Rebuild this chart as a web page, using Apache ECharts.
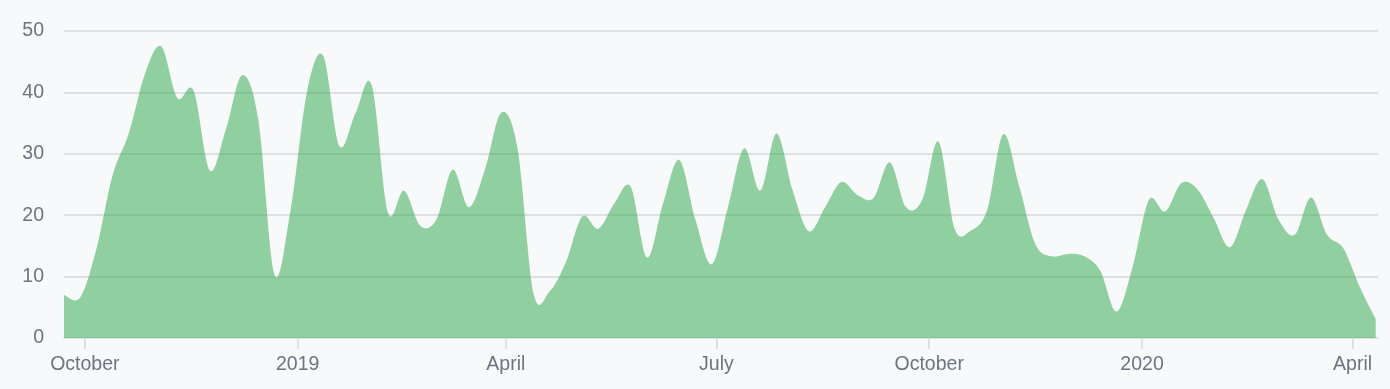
<!DOCTYPE html>
<html>
<head>
<meta charset="utf-8">
<script src="https://cdn.jsdelivr.net/npm/echarts@6/dist/echarts.min.js"></script>
<style>
html,body{margin:0;padding:0;background:#f8f9fa;}
#chart{width:1390px;height:389px;}
</style>
</head>
<body>
<div id="chart"></div>
<script>
var weeks = [
"2018-09-22","2018-09-29","2018-10-06","2018-10-13","2018-10-20","2018-10-27","2018-11-03","2018-11-10","2018-11-17","2018-11-24",
"2018-12-01","2018-12-08","2018-12-15","2018-12-22","2018-12-29","2019-01-05","2019-01-12","2019-01-19","2019-01-26","2019-02-02",
"2019-02-09","2019-02-16","2019-02-23","2019-03-02","2019-03-09","2019-03-16","2019-03-23","2019-03-30","2019-04-06","2019-04-13",
"2019-04-20","2019-04-27","2019-05-04","2019-05-11","2019-05-18","2019-05-25","2019-06-01","2019-06-08","2019-06-15","2019-06-22",
"2019-06-29","2019-07-06","2019-07-13","2019-07-20","2019-07-27","2019-08-03","2019-08-10","2019-08-17","2019-08-24","2019-08-31",
"2019-09-07","2019-09-14","2019-09-21","2019-09-28","2019-10-05","2019-10-12","2019-10-19","2019-10-26","2019-11-02","2019-11-09",
"2019-11-16","2019-11-23","2019-11-30","2019-12-07","2019-12-14","2019-12-21","2019-12-28","2020-01-04","2020-01-11","2020-01-18",
"2020-01-25","2020-02-01","2020-02-08","2020-02-15","2020-02-22","2020-02-29","2020-03-07","2020-03-14","2020-03-21","2020-03-28",
"2020-04-04","2020-04-11"
];
var counts = [
7.0, 6.6, 14.5, 26.5, 33.3, 43.0, 47.5, 39.1, 40.3, 27.3,
34.0, 42.8, 35.5, 10.3, 21.0, 40.0, 46.0, 31.3, 36.6, 41.2,
20.5, 24.0, 18.3, 19.3, 27.4, 21.3, 27.5, 36.7, 31.0, 7.2,
7.6, 12.4, 19.8, 17.8, 22.0, 24.6, 13.1, 22.0, 29.0, 19.2,
12.0, 21.3, 30.9, 24.0, 33.3, 24.0, 17.4, 21.3, 25.4, 23.3,
22.8, 28.6, 21.3, 22.5, 32.0, 17.8, 17.5, 20.8, 33.2, 24.6,
15.2, 13.3, 13.7, 13.3, 10.9, 4.3, 11.7, 22.5, 20.6, 25.2,
24.2, 19.5, 14.8, 20.9, 25.9, 19.3, 16.8, 22.9, 16.8, 14.6,
8.4, 3.1
];
var monthNames = ["January","February","March","April","May","June","July","August","September","October","November","December"];
var axisEnd = "2020-04-12";
var yTicks = [0, 10, 20, 30, 40, 50];

var seriesData = weeks.map(function (d, i) { return [d, counts[i]]; });

// uniform Catmull-Rom spline through the projected points
function renderArea(params, api) {
  if (params.dataIndex !== 0) return null;
  var n = counts.length;
  var pts = [];
  for (var i = 0; i < n; i++) {
    pts.push(api.coord([api.value(0, i), api.value(1, i)]));
  }
  var cs = params.coordSys;
  var top = cs.y, bottom = cs.y + cs.height;
  var base = api.coord([api.value(0, 0), yTicks[0]])[1];
  function clampY(v) { return Math.max(top, Math.min(bottom, v)); }
  var d = 'M' + pts[0][0] + ' ' + pts[0][1];
  for (var k = 0; k < n - 1; k++) {
    var p0 = pts[Math.max(k - 1, 0)], p1 = pts[k], p2 = pts[k + 1], p3 = pts[Math.min(k + 2, n - 1)];
    var c1x = p1[0] + (p2[0] - p0[0]) / 6, c1y = clampY(p1[1] + (p2[1] - p0[1]) / 6);
    var c2x = p2[0] - (p3[0] - p1[0]) / 6, c2y = clampY(p2[1] - (p3[1] - p1[1]) / 6);
    d += ' C' + c1x + ' ' + c1y + ' ' + c2x + ' ' + c2y + ' ' + p2[0] + ' ' + p2[1];
  }
  d += ' L' + pts[n - 1][0] + ' ' + base + ' L' + pts[0][0] + ' ' + base + ' Z';
  return {
    type: 'path',
    shape: {pathData: d},
    style: {fill: 'rgba(40,167,69,0.5)', stroke: null}
  };
}

var chart = echarts.init(document.getElementById('chart'), null, {renderer: 'canvas'});
chart.setOption({
  backgroundColor: '#f8f9fa',
  animation: false,
  grid: {left: 64, right: 12, top: 31, bottom: 51, containLabel: false},
  xAxis: {
    type: 'time',
    min: 'dataMin',
    max: axisEnd,
    splitNumber: 5,
    axisLine: {show: true, lineStyle: {color: '#dfe0e2', width: 2}},
    axisTick: {show: true, length: 11, lineStyle: {color: '#dfe0e2', width: 2}},
    splitLine: {show: false},
    axisLabel: {
      color: '#6c757d',
      fontSize: 19.5,
      fontFamily: '"Liberation Sans", Arial, sans-serif',
      margin: 17,
      hideOverlap: true,
      formatter: function (value) {
        var dt = new Date(value);
        return dt.getMonth() === 0 ? String(dt.getFullYear()) : monthNames[dt.getMonth()];
      }
    }
  },
  yAxis: {
    type: 'value',
    min: yTicks[0],
    max: yTicks[yTicks.length - 1],
    interval: 10,
    axisLine: {show: false},
    axisTick: {show: false},
    splitLine: {show: true, lineStyle: {color: '#dfe0e2', width: 2}},
    axisLabel: {
      color: '#6c757d',
      fontSize: 19.5,
      fontFamily: '"Liberation Sans", Arial, sans-serif',
      margin: 20
    }
  },
  series: [{
    type: 'custom',
    data: seriesData,
    encode: {x: 0, y: 1},
    renderItem: renderArea,
    clip: true
  }]
});
</script>
</body>
</html>
